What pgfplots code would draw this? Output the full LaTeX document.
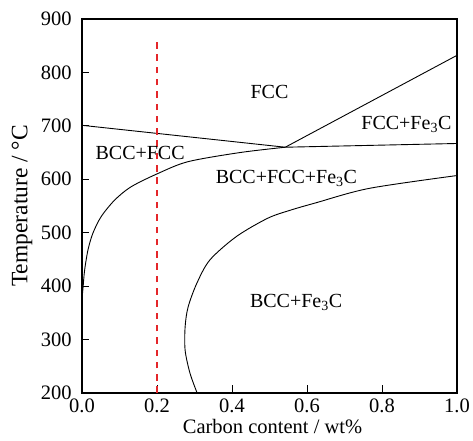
\documentclass[border=0pt]{standalone}
\usepackage{fontspec}
\setmainfont{Liberation Serif}
\usepackage{pgfplots}
\pgfplotsset{compat=1.18}
\definecolor{dashred}{RGB}{228,38,42}
\begin{document}
\fontsize{20}{24}\selectfont
\begin{tikzpicture}
\begin{axis}[
    scale only axis,
    width=375pt, height=374pt,
    xmin=0, xmax=1, ymin=200, ymax=900,
    xtick={0,0.2,...,1.0}, ytick={200,300,...,900},
    tick pos=left, tick align=inside,
    major tick length=7.5pt,
    tick style={black, line width=0.8pt},
    axis line style={line width=1.1pt},
    /pgf/number format/assume math mode=true,
    ticklabel style={font=\fontsize{20.5}{24}\selectfont},
    xticklabel style={anchor=base, yshift=-20pt,
        /pgf/number format/fixed, /pgf/number format/fixed zerofill,
        /pgf/number format/precision=1},
    yticklabel style={xshift=-3.5pt,
        /pgf/number format/fixed, /pgf/number format/precision=0},
    xlabel={Carbon content / wt\%},
    ylabel={Temperature / °C},
    every axis x label/.style={at={(axis description cs:0.5,0)}, anchor=base,
        yshift=-41pt, xshift=3pt, font=\fontsize{20.5}{24}\selectfont},
    every axis y label/.style={at={(axis description cs:0,0.5)}, rotate=90,
        anchor=center, yshift=60pt, font=\fontsize{23.5}{28}\selectfont},
    clip=false,
]
% phase boundaries
\addplot[black, line width=0.9pt] coordinates {(0,701) (0.542,660)};
\addplot[black, line width=0.9pt] coordinates {(0.542,660) (1.0,832)};
\addplot[black, line width=0.9pt] coordinates {(0.542,660) (1.0,667)};
\addplot[black, line width=0.9pt, smooth] coordinates {
    (0,375) (0.003,399) (0.007,430) (0.016,468) (0.029,499) (0.051,530)
    (0.087,561) (0.131,586) (0.203,611) (0.283,633) (0.421,650) (0.542,660)};
\addplot[black, line width=0.9pt, smooth] coordinates {
    (0.307,200) (0.288,237) (0.275,280) (0.275,324) (0.283,361) (0.306,405)
    (0.341,449) (0.412,493) (0.495,527) (0.555,542) (0.624,556) (0.766,583) (1.0,607)};
% composition line
\addplot[dashred, line width=1.8pt, dash pattern=on 6.5pt off 5.8pt] coordinates {(0.2,200) (0.2,861)};
% region labels
\node at (axis cs:0.50,763) {FCC};
\node at (axis cs:0.865,703) {FCC+Fe\textsubscript{3}C};
\node at (axis cs:0.155,649) {BCC+FCC};
\node at (axis cs:0.545,602) {BCC+FCC+Fe\textsubscript{3}C};
\node at (axis cs:0.571,370) {BCC+Fe\textsubscript{3}C};
\coordinate (bl) at (rel axis cs:0,0);
\coordinate (tr) at (rel axis cs:1,1);
\end{axis}
\pgfresetboundingbox
\path (bl) ++(-82pt,-48pt) rectangle ([xshift=16pt,yshift=19pt]tr);
\end{tikzpicture}
\end{document}
